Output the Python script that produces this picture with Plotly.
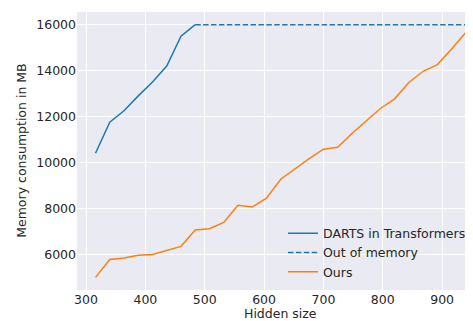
import plotly.graph_objects as go

hidden_darts = [316, 340, 364, 388, 412, 436, 460, 484]
mem_darts = [10400, 11750, 12250, 12900, 13500, 14200, 15500, 16000]

hidden_oom = [484, 940]
mem_oom = [16000, 16000]

hidden_ours = [316, 340, 364, 388, 412, 436, 460, 484, 508, 532, 556, 580, 604,
               628, 652, 676, 700, 724, 748, 772, 796, 820, 844, 868, 892, 916, 940]
mem_ours = [5000, 5780, 5840, 5960, 6000, 6160, 6350, 7060, 7120, 7390, 8140, 8060, 8450,
            9270, 9720, 10170, 10580, 10660, 11260, 11810, 12350, 12770, 13480, 13970, 14260, 14940, 15660]

x_ticks = [300, 400, 500, 600, 700, 800, 900]
y_ticks = [6000, 8000, 10000, 12000, 14000, 16000]

BLUE = "#1f77b4"
ORANGE = "#ff7f0e"
TXT = "#262626"

# page body has an 8px margin; figure is sized so the drawn chart fills the 473x321 window
W, H = 465, 313
L, R, T, B = 69, 0, 4, 31
PW, PH = W - L - R, H - T - B

fig = go.Figure()
fig.add_trace(go.Scatter(x=hidden_darts, y=mem_darts, mode="lines", name="DARTS in Transformers",
                         line=dict(color=BLUE, width=1.5)))
fig.add_trace(go.Scatter(x=hidden_oom, y=mem_oom, mode="lines", name="Out of memory",
                         line=dict(color=BLUE, width=1.5, dash="5.5px,2.4px")))
fig.add_trace(go.Scatter(x=hidden_ours, y=mem_ours, mode="lines", name="Ours",
                         line=dict(color=ORANGE, width=1.5)))

fig.update_layout(
    width=W, height=H,
    margin=dict(l=L, r=R, t=T, b=B, autoexpand=False),
    paper_bgcolor="white",
    plot_bgcolor="#EAEAF2",
    font=dict(family="DejaVu Sans", size=12.5, color=TXT),
    showlegend=True,
    legend=dict(x=(275 - L) / PW, y=(T + PH - 210.7) / PH, xanchor="left", yanchor="top",
                bgcolor="rgba(0,0,0,0)", borderwidth=0, font=dict(size=12.5, color=TXT),
                tracegroupgap=0),
    xaxis=dict(range=[284.8, 952], tickvals=x_ticks, tickformat="d", showgrid=True,
               gridcolor="white", gridwidth=1, zeroline=False, showline=False, ticks="",
               ticklen=0, automargin=False, tickfont=dict(size=12.5, color=TXT)),
    yaxis=dict(range=[4450, 16550], tickvals=y_ticks, tickformat="d", showgrid=True,
               gridcolor="white", gridwidth=1, zeroline=False, showline=False, ticks="",
               ticklen=0, automargin=False, tickfont=dict(size=12.5, color=TXT)),
    annotations=[
        dict(text="Hidden size", xref="paper", yref="paper", x=(272.5 - L) / PW, y=0,
             yshift=-23, xanchor="center", yanchor="middle", showarrow=False,
             font=dict(size=12.5, color=TXT)),
        dict(text="Memory consumption in MB", xref="paper", yref="paper", x=(12.8 - L) / PW,
             y=0.5, xanchor="center", yanchor="middle", textangle=-90, showarrow=False,
             font=dict(size=12.5, color=TXT)),
    ],
)

fig.write_html("out.html")
